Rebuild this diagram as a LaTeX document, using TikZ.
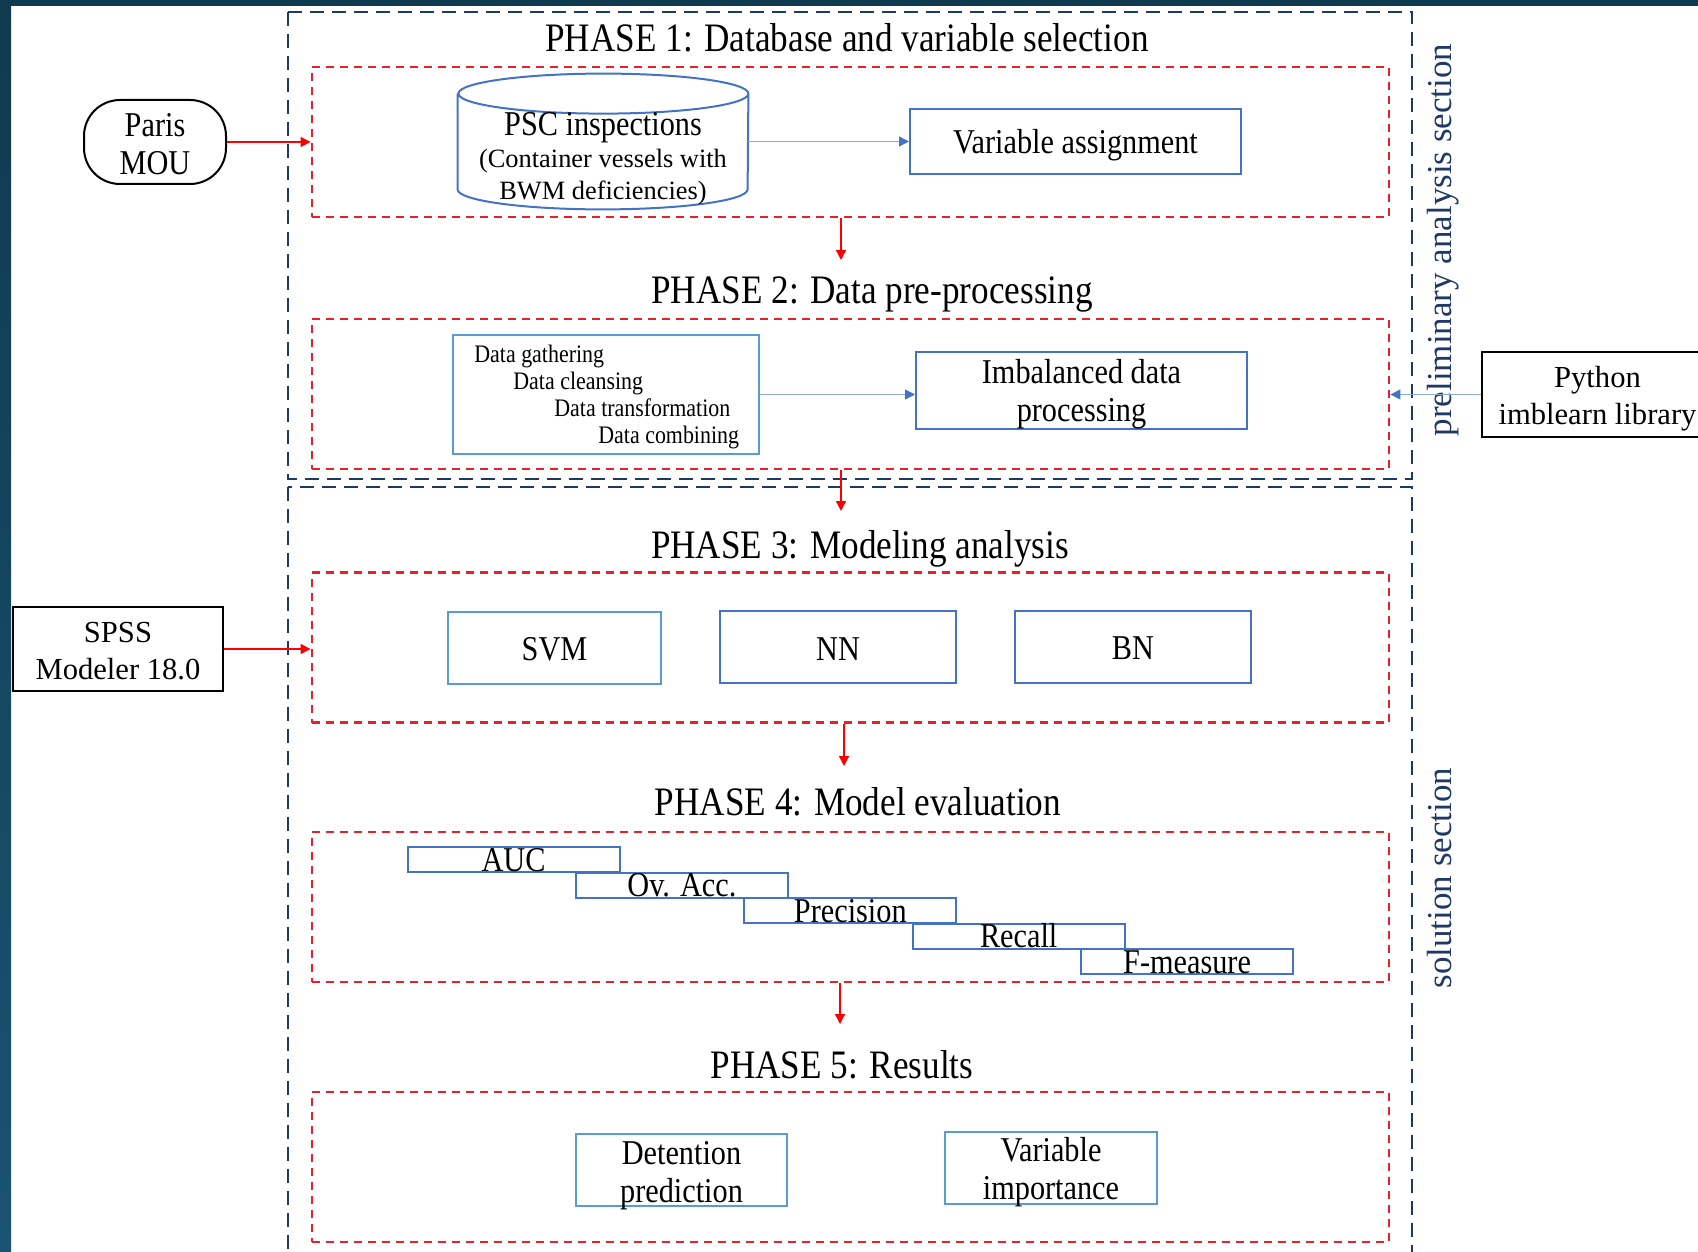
\documentclass[tikz,border=0pt]{standalone}
\usepackage{fontspec}
\setmainfont{Liberation Serif}[FakeStretch=0.87]
\newfontfamily\widefont{Liberation Serif}
\usetikzlibrary{arrows.meta}
\definecolor{navy}{HTML}{1F3864}
\definecolor{boxblue}{HTML}{4472C4}
\definecolor{lightblue}{HTML}{5B9BD5}
\definecolor{arrowblue}{HTML}{8EAADB}
\definecolor{dashred}{HTML}{E8202A}
\definecolor{frametop}{HTML}{103A4F}
\definecolor{framebot}{HTML}{1A5371}
\newcommand{\boxfont}{\fontsize{17.4}{19}\selectfont}
\newcommand{\topstrut}[1]{\rule{0pt}{#1}}
\newcommand{\nodepth}[1]{\raisebox{0pt}[\height][0pt]{#1}}

\begin{document}
\begin{tikzpicture}[x=0.5pt, y=-0.5pt,
    sectionframe/.style={draw=navy, line width=1.2pt, dash pattern=on 7pt off 4pt},
    phasebox/.style={draw=dashred, line width=1.4pt, dash pattern=on 4pt off 3pt,
      minimum width=538.5pt, minimum height=75pt, inner sep=0pt},
    phasetitle/.style={anchor=base, font=\fontsize{20.2}{24}\selectfont},
    bluebox/.style={draw=boxblue, line width=1pt, inner sep=0pt, align=center,
      font=\boxfont},
    blackbox/.style={draw=black, line width=1pt, inner sep=0pt, align=center,
      font=\widefont\fontsize{15.3}{18.4}\selectfont},
    stepbox/.style={bluebox, minimum width=106pt, minimum height=12.5pt,
      text height=11.8pt, text depth=0pt},
    sidelabel/.style={rotate=90, text=navy, inner sep=0pt,
      font=\widefont\fontsize{17.5}{20}\selectfont},
    redarrow/.style={draw=red, line width=0.65pt,
      -{Triangle[length=5pt, width=5pt]}},
    bluearrow/.style={draw=arrowblue, line width=0.65pt,
      -{Triangle[length=5pt, width=5pt, color=boxblue]}}]
  \useasboundingbox (0,0) rectangle (1698,1252);
  \clip (0,0) rectangle (1698,1252);
  % frame of the page
  \shade [top color=frametop, bottom color=framebot] (0,0) rectangle (11,1252);
  \fill [frametop] (0,0) rectangle (1698,6);
  % the two sections
  \draw [sectionframe] (288,12) rectangle (1412,479);
  \draw [sectionframe] (288,487) rectangle (1412,1290);
  \node (prelim) [sidelabel] at (1443,240)
    {preliminary analysis section};
  \node (solution) [sidelabel] at (1440,878)
    {solution section};

  % phase boxes and titles
  \node (r1) [phasebox] at (850.5,142) {};
  \node (r2) [phasebox] at (850.5,394) {};
  \node (r3) [phasebox] at (850.5,647.5) {};
  \node (r4) [phasebox] at (850.5,907) {};
  \node (r5) [phasebox] at (850.5,1167) {};
  \node (t1) [phasetitle] at (847,52)
    {PHASE 1: Database and variable selection};
  \node (t2) [phasetitle] at (872,303)
    {PHASE 2: Data pre-processing};
  \node (t3) [phasetitle] at (860,558)
    {PHASE 3: Modeling analysis};
  \node (t4) [phasetitle] at (858,815)
    {PHASE 4: Model evaluation};
  \node (t5) [phasetitle] at (842,1078)
    {PHASE 5: Results};
  \coordinate (a2) at (841,260);
  \coordinate (a3) at (841,511);
  \coordinate (a4) at (844,766);
  \coordinate (a5) at (840,1024);
  \draw [redarrow] (r1.south -| a2) -- (a2);
  \draw [redarrow] (r2.south -| a3) -- (a3);
  \draw [redarrow] (r3.south -| a4) -- (a4);
  \draw [redarrow] (r4.south -| a5) -- (a5);

  % phase 1
  \node (mou) [blackbox, rounded corners=18pt, font=\boxfont,
    minimum width=71pt, minimum height=42pt] at (155,142)
    {\topstrut{13.8pt}Paris\\MOU};
  \node (psc) [minimum width=145pt, minimum height=67.5pt, inner sep=0pt]
    at (603,141.5) {};
  \draw [draw=boxblue, line width=1pt] ([yshift=-10pt]psc.north west)
    -- ([yshift=10pt]psc.south west)
    arc [start angle=180, end angle=360, x radius=72.5pt, y radius=10pt]
    -- ([yshift=-10pt]psc.north east)
    arc [start angle=0, end angle=360, x radius=72.5pt, y radius=10pt];
  \node (psctext) [align=center, inner sep=0pt,
    font=\widefont\fontsize{13.2}{16}\selectfont] at (603,159)
    {{\normalfont\fontsize{17.4}{16}\selectfont PSC inspections}\\
     (Container vessels with\\BWM deficiencies)};
  \node (var) [bluebox, text height=16pt, minimum width=165.5pt,
    minimum height=32.5pt] at (1075.5,141.5) {Variable assignment};
  \draw [redarrow] (mou.east) to (mou.east -| r1.west);
  \draw [bluearrow] (psc.east) to (var.west);

  % phase 2
  \node (data) [bluebox, draw=lightblue, minimum width=153pt,
    minimum height=59.5pt] at (606,394.5) {};
  \node (datatext) [anchor=west, align=left, inner sep=0pt,
    font=\fontsize{12.6}{13.35}\selectfont] at (474,397)
    {Data gathering\\
     \hspace*{19.5pt}Data cleansing\\
     \hspace*{40pt}Data transformation\\
     \hspace*{62pt}Data combining};
  \node (imb) [bluebox, minimum width=165.5pt, minimum height=38.5pt]
    at (1081.5,390.5) {Imbalanced data\\\nodepth{processing}};
  \node (python) [blackbox, minimum width=115.5pt, minimum height=42.5pt]
    at (1597.5,394.5) {\topstrut{14.4pt}Python\\imblearn library};
  \draw [bluearrow] (data.east) to (data.east -| imb.west);
  \draw [bluearrow] (python.west) to (python.west -| r2.east);

  % phase 3
  \node (spss) [blackbox, minimum width=105pt, minimum height=42pt]
    at (118,649) {\topstrut{12pt}SPSS\\Modeler 18.0};
  \node (svm) [bluebox, draw=lightblue, minimum width=106.5pt,
    minimum height=36pt, text height=13pt] at (554.5,648) {SVM};
  \node (nn) [bluebox, minimum width=118pt, minimum height=36pt,
    text height=13pt] at (838,647) {NN};
  \node (bn) [bluebox, minimum width=118pt, minimum height=36pt,
    text height=13pt] at (1133,647) {BN};
  \draw [redarrow] (spss.east) to (spss.east -| r3.west);

  % phase 4
  \foreach \lbl [count=\i from 0] in {AUC, Ov. Acc., Precision, Recall, F-measure}
    \node (m\i) [stepbox] at (513.5+168.4*\i, 859.5+25.5*\i) {\lbl};

  % phase 5
  \node (det) [bluebox, draw=lightblue, minimum width=105.5pt,
    minimum height=36pt] at (681.5,1170)
    {\topstrut{13.2pt}Detention\\\nodepth{prediction}};
  \node (imp) [bluebox, draw=lightblue, minimum width=106pt,
    minimum height=36pt] at (1051,1168)
    {Variable\\\nodepth{importance}};
\end{tikzpicture}
\end{document}
